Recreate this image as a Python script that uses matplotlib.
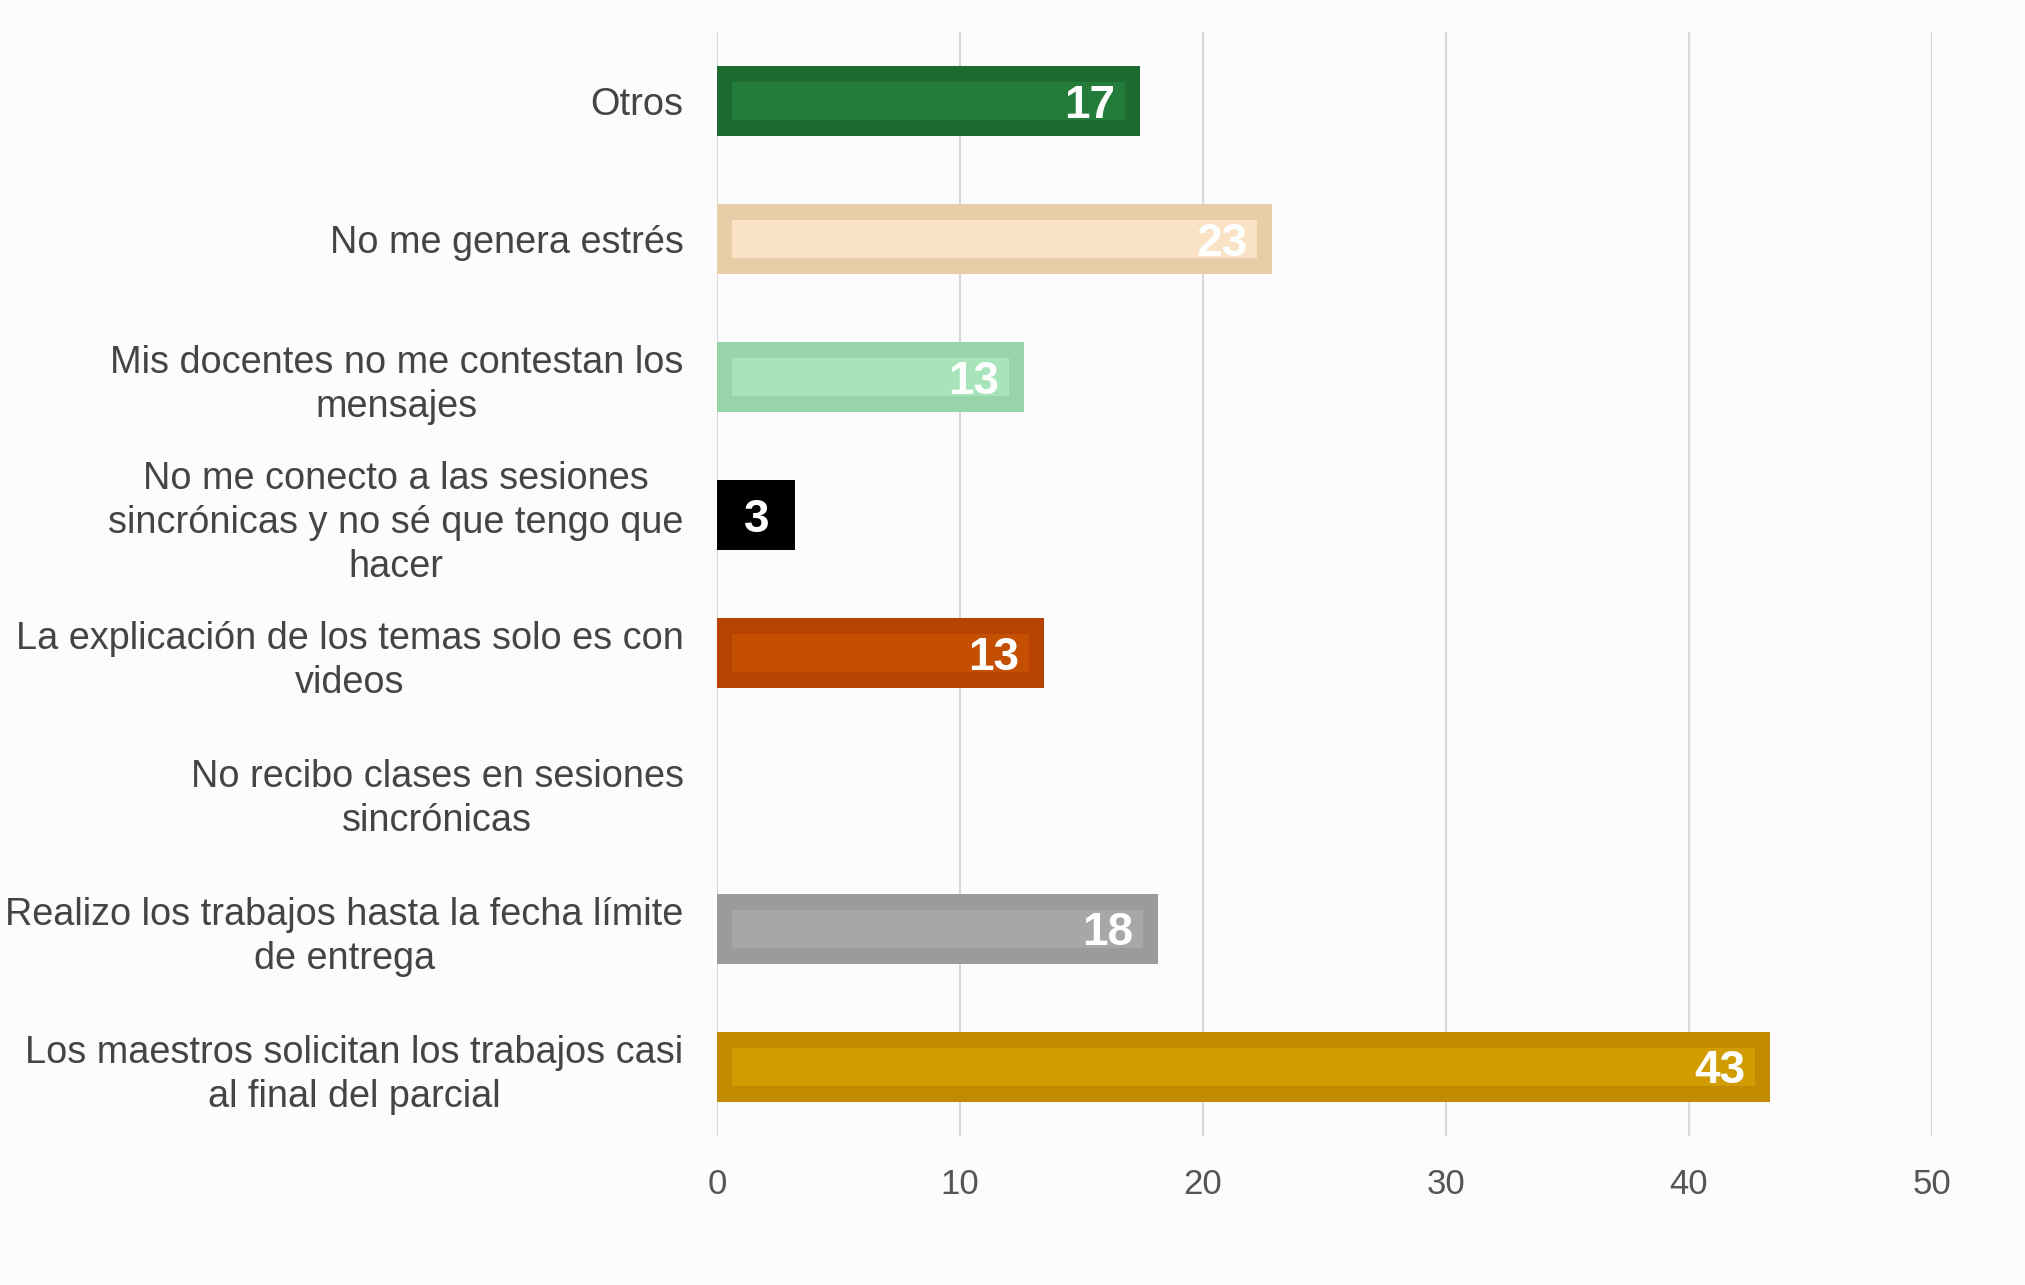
import matplotlib
matplotlib.use("Agg")
import matplotlib.pyplot as plt
import numpy as np

categories = [
    "Otros",
    "No me genera estrés",
    "Mis docentes no me contestan los\nmensajes",
    "No me conecto a las sesiones\nsincrónicas y no sé que tengo que\nhacer",
    "La explicación de los temas solo es con\nvideos",
    "No recibo clases en sesiones\nsincrónicas",
    "Realizo los trabajos hasta la fecha límite\nde entrega",
    "Los maestros solicitan los trabajos casi\nal final del parcial",
]
values = [17.4, 22.85, 12.65, 3.2, 13.45, 0.0, 18.15, 43.35]
outer_colors = ["#1d6b31", "#e8cda9", "#97d4a9", "#000000", "#b64400", "#ffffff", "#9b9b9b", "#c18a00"]
inner_colors = ["#237c3a", "#fae3c4", "#a7e4b9", "#000000", "#c54f00", "#ffffff", "#a7a7a7", "#d19c00"]
xticks = [0, 10, 20, 30, 40, 50]

plt.rcParams['font.family'] = ['Liberation Sans', 'DejaVu Sans']

fig = plt.figure(figsize=(20.25, 12.85), dpi=100)
fig.patch.set_facecolor("#fcfcfc")
ax = fig.add_axes([0.354, 0.116, 0.600, 0.859])
ax.set_facecolor("#fcfcfc")

y = np.arange(len(categories))
bar_h = 0.51
inset_x = 0.62
inset_y = 0.115
val_fs = 33

for yi, v, oc, ic in zip(y, values, outer_colors, inner_colors):
    if v <= 0:
        continue
    ax.barh(yi, v, height=bar_h, color=oc, zorder=3)
    ax.barh(yi, max(v - 2 * inset_x, 0), left=inset_x, height=bar_h - 2 * inset_y,
            color=ic, zorder=4)
    ax.annotate(f"{v:.0f}", xy=(v, yi), xytext=(-18, -0.36 * val_fs),
                textcoords="offset points",
                ha="right", va="baseline", color="white", fontsize=val_fs,
                fontweight="bold", zorder=5)

ax.set_xlim(0, 50)
ax.set_ylim(len(categories) - 0.5, -0.5)
ax.set_xticks(xticks)
ax.set_xticklabels([str(t) for t in xticks], fontsize=25, color="#555555")
ax.set_yticks(y)
ax.set_yticklabels(categories, fontsize=27.3, color="#444444", multialignment="center",
                   linespacing=1.28)
ax.tick_params(axis="both", length=0)
ax.tick_params(axis="y", pad=24)
ax.tick_params(axis="x", pad=23)
ax.grid(axis="x", color="#d9d9d9", linewidth=1.5, zorder=0)
for s in ax.spines.values():
    s.set_visible(False)

fig.savefig("out.png", dpi=100, facecolor=fig.get_facecolor())
